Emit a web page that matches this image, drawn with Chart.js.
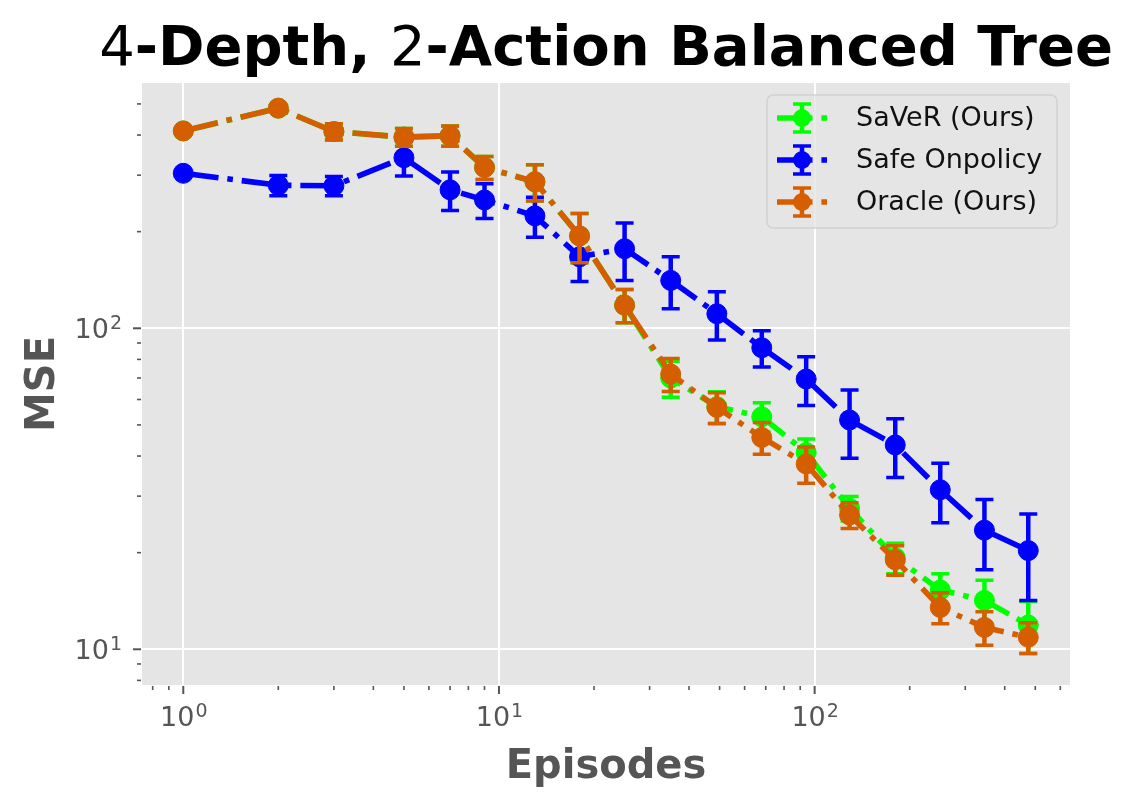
<!DOCTYPE html>
<html>
<head>
<meta charset="utf-8">
<title>4-Depth, 2-Action Balanced Tree</title>
<script src="https://cdn.jsdelivr.net/npm/chart.js@4.4.1/dist/chart.umd.min.js"></script>
<style>
  html, body { margin: 0; padding: 0; background: #ffffff; }
  #chart { display: block; }
</style>
</head>
<body>
<canvas id="chart" width="1130" height="807"></canvas>
<script>
'use strict';

// ********************* DATA *********************

const episodes = [1, 2, 3, 5, 7, 9, 13, 18, 25, 35, 49, 68, 94, 129, 180, 250, 345, 475];

const saverMse = [412, 485, 410, 394, 398, 317, 286, 194, 118, 70, 57, 53, 41, 27.5, 19.3, 15.3, 14.2, 11.9];
const saverErr = [3, 3, 24, 25, 29, 26, 37, 34, 14, 9, 6.4, 5.6, 4.2, 2.4, 2.1, 1.9, 2.2, 2.2];

const onpolicyMse = [304, 279, 278, 340, 270, 251, 224, 167, 177, 141, 111, 87, 69.5, 51.8, 43.3, 31.4, 23.5, 20.3];
const onpolicyErr = [5, 20, 19, 42, 37, 31, 32, 27, 36, 26, 19, 11.3, 12, 12.4, 9, 6.6, 5.8, 6.1];

const oracleMse = [412, 485, 410, 394, 398, 317, 286, 194, 118, 72, 56.7, 45.7, 37.8, 26.2, 19.0, 13.5, 11.7, 10.9];
const oracleErr = [3, 3, 24, 25, 29, 26, 37, 34, 14, 8.5, 6.3, 5.2, 4.9, 2.4, 2.0, 1.5, 1.4, 1.2];

const seriesLabels = ['SaVeR (Ours)', 'Safe Onpolicy', 'Oracle (Ours)'];

const xMajorTicks = [1, 10, 100];
const xMinorTicks = [0.8, 0.9, 2, 3, 4, 5, 6, 7, 8, 9, 20, 30, 40, 50, 60, 70, 80, 90, 200, 300, 400, 500, 600];
const yMajorTicks = [10, 100];
const yMinorTicks = [8, 9, 20, 30, 40, 50, 60, 70, 80, 90, 200, 300, 400, 500];

const xRange = [0.740, 644];
const yRange = [7.74, 581];


// ********************* STYLE *********************

const FONT = '"DejaVu Sans", "Noto Sans", sans-serif';
const TEXT_GREY = '#555555';
const LINE_W = 5.6;
const DASH_DOT = [35.5, 8.9, 5.6, 8.9];
const colors = ['#00FF00', '#0000FF', '#D55E00'];


// ********************* HELPERS *********************

function toPoints(values) {
  return episodes.map((x, i) => ({ x: x, y: values[i] }));
}

function isMajor(v) {
  let l = Math.log10(v);
  return Math.abs(l - Math.round(l)) < 1e-9;
}

function makeDataset(i, values, errors, order) {
  return {
    label: seriesLabels[i],
    data: toPoints(values),
    errors: errors,
    borderColor: colors[i],
    backgroundColor: colors[i],
    borderWidth: LINE_W,
    borderDash: DASH_DOT,
    borderCapStyle: 'butt',
    tension: 0,
    fill: false,
    pointRadius: 10,
    pointBorderWidth: 1,
    pointBackgroundColor: colors[i],
    pointBorderColor: colors[i],
    order: order
  };
}

function drawErrorBars(chart, index) {
  let ds = chart.data.datasets[index];
  let meta = chart.getDatasetMeta(index);
  let yScale = chart.scales.y;
  let ctx = chart.ctx;
  ctx.save();
  ctx.strokeStyle = ds.borderColor;
  ctx.lineCap = 'butt';
  meta.data.forEach((pt, i) => {
    let v = ds.data[i].y;
    let e = ds.errors[i];
    let top = yScale.getPixelForValue(v + e);
    let bot = yScale.getPixelForValue(v - e);
    ctx.lineWidth = 4.5;
    ctx.beginPath();
    ctx.moveTo(pt.x, top);
    ctx.lineTo(pt.x, bot);
    ctx.stroke();
    ctx.lineWidth = 3.5;
    ctx.beginPath();
    ctx.moveTo(pt.x - 9, top);
    ctx.lineTo(pt.x + 9, top);
    ctx.moveTo(pt.x - 9, bot);
    ctx.lineTo(pt.x + 9, bot);
    ctx.stroke();
  });
  ctx.restore();
}

// "10" with a raised exponent, like matplotlib's log labels
function drawPower(ctx, exp, x, baseline, align) {
  ctx.font = '27px ' + FONT;
  let wBase = ctx.measureText('10').width;
  ctx.font = '19px ' + FONT;
  let wExp = ctx.measureText(String(exp)).width;
  let total = wBase + wExp;
  let left = align === 'center' ? x - total / 2 : x - total;
  ctx.textAlign = 'left';
  ctx.textBaseline = 'alphabetic';
  ctx.fillStyle = TEXT_GREY;
  ctx.font = '27px ' + FONT;
  ctx.fillText('10', left, baseline);
  ctx.font = '19px ' + FONT;
  ctx.fillText(String(exp), left + wBase + 1, baseline - 9);
}

function drawAxisTicks(chart) {
  let ctx = chart.ctx;
  let a = chart.chartArea;
  let xs = chart.scales.x;
  let ys = chart.scales.y;
  ctx.save();
  ctx.strokeStyle = TEXT_GREY;

  xs.ticks.forEach(t => {
    let px = xs.getPixelForValue(t.value);
    let major = isMajor(t.value);
    ctx.lineWidth = major ? 2 : 1.6;
    ctx.beginPath();
    ctx.moveTo(px, a.bottom + 1);
    ctx.lineTo(px, a.bottom + (major ? 9 : 5));
    ctx.stroke();
    if (major) {
      drawPower(ctx, Math.round(Math.log10(t.value)), px, 726, 'center');
    }
  });

  ys.ticks.forEach(t => {
    let py = ys.getPixelForValue(t.value);
    let major = isMajor(t.value);
    ctx.lineWidth = major ? 2 : 1.6;
    ctx.beginPath();
    ctx.moveTo(a.left - 1, py);
    ctx.lineTo(a.left - (major ? 9 : 5), py);
    ctx.stroke();
    if (major) {
      drawPower(ctx, Math.round(Math.log10(t.value)), 121, py + 10, 'right');
    }
  });
  ctx.restore();
}

function drawTitles(chart) {
  let ctx = chart.ctx;
  let a = chart.chartArea;
  let cx = (a.left + a.right) / 2;
  ctx.save();

  // main title: the numbers are regular, the words bold
  let parts = [
    ['4', 'normal'],
    ['-Depth, ', 'bold'],
    ['2', 'normal'],
    ['-Action Balanced Tree', 'bold']
  ];
  let widths = parts.map(p => {
    ctx.font = p[1] + ' 56px ' + FONT;
    return ctx.measureText(p[0]).width;
  });
  let total = widths.reduce((s, w) => s + w, 0);
  let x = cx - total / 2;
  ctx.fillStyle = '#000000';
  ctx.textAlign = 'left';
  ctx.textBaseline = 'alphabetic';
  parts.forEach((p, i) => {
    ctx.font = p[1] + ' 56px ' + FONT;
    ctx.fillText(p[0], x, 65);
    x += widths[i];
  });

  ctx.fillStyle = TEXT_GREY;
  ctx.font = 'bold 40px ' + FONT;
  ctx.textAlign = 'center';
  ctx.fillText('Episodes', cx, 778);

  ctx.translate(54, (a.top + a.bottom) / 2);
  ctx.rotate(-Math.PI / 2);
  ctx.fillText('MSE', 0, 0);
  ctx.restore();
}

function roundRect(ctx, x, y, w, h, r) {
  ctx.beginPath();
  ctx.moveTo(x + r, y);
  ctx.lineTo(x + w - r, y);
  ctx.arcTo(x + w, y, x + w, y + r, r);
  ctx.lineTo(x + w, y + h - r);
  ctx.arcTo(x + w, y + h, x + w - r, y + h, r);
  ctx.lineTo(x + r, y + h);
  ctx.arcTo(x, y + h, x, y + h - r, r);
  ctx.lineTo(x, y + r);
  ctx.arcTo(x, y, x + r, y, r);
  ctx.closePath();
}

function drawLegend(chart) {
  let ctx = chart.ctx;
  ctx.save();
  roundRect(ctx, 767, 95, 290, 133, 6);
  ctx.fillStyle = 'rgba(229, 229, 229, 0.8)';
  ctx.fill();
  ctx.strokeStyle = 'rgba(204, 204, 204, 0.8)';
  ctx.lineWidth = 1.5;
  ctx.stroke();

  chart.data.datasets.forEach((ds, i) => {
    let ry = 118 + i * 42;
    let mx = 802;
    ctx.strokeStyle = ds.borderColor;
    ctx.fillStyle = ds.borderColor;

    ctx.lineWidth = LINE_W;
    ctx.setLineDash(DASH_DOT);
    ctx.beginPath();
    ctx.moveTo(777, ry);
    ctx.lineTo(827, ry);
    ctx.stroke();
    ctx.setLineDash([]);

    ctx.lineWidth = 4.5;
    ctx.beginPath();
    ctx.moveTo(mx, ry - 14);
    ctx.lineTo(mx, ry + 14);
    ctx.stroke();
    ctx.lineWidth = 3.5;
    ctx.beginPath();
    ctx.moveTo(mx - 9, ry - 14);
    ctx.lineTo(mx + 9, ry - 14);
    ctx.moveTo(mx - 9, ry + 14);
    ctx.lineTo(mx + 9, ry + 14);
    ctx.stroke();

    ctx.beginPath();
    ctx.arc(mx, ry, 9, 0, Math.PI * 2);
    ctx.fill();

    ctx.fillStyle = '#111111';
    ctx.font = '27px ' + FONT;
    ctx.textAlign = 'left';
    ctx.textBaseline = 'middle';
    ctx.fillText(ds.label, 856, ry + 1);
  });
  ctx.restore();
}


// ********************* PLUGIN *********************

const plotDecor = {
  id: 'plotDecor',
  beforeDraw(chart) {
    let ctx = chart.ctx;
    let a = chart.chartArea;
    ctx.save();
    ctx.fillStyle = '#ffffff';
    ctx.fillRect(0, 0, chart.width, chart.height);
    ctx.fillStyle = '#E5E5E5';
    ctx.fillRect(a.left, a.top, a.right - a.left, a.bottom - a.top);
    ctx.restore();
  },
  beforeDatasetDraw(chart, args) {
    drawErrorBars(chart, args.index);
  },
  afterDraw(chart) {
    drawAxisTicks(chart);
    drawTitles(chart);
    drawLegend(chart);
  }
};


// ********************* CHART *********************

function gridColor(c) {
  return c.tick && isMajor(c.tick.value) ? '#ffffff' : 'rgba(0,0,0,0)';
}

let ctx = document.getElementById('chart');

new Chart(ctx, {
  type: 'line',
  data: {
    datasets: [
      makeDataset(0, saverMse, saverErr, 3),
      makeDataset(1, onpolicyMse, onpolicyErr, 2),
      makeDataset(2, oracleMse, oracleErr, 1)
    ]
  },
  options: {
    responsive: false,
    animation: false,
    devicePixelRatio: 1,
    layout: { padding: { top: 83, right: 60, left: 0, bottom: 0 } },
    plugins: {
      legend: { display: false },
      tooltip: { enabled: false },
      title: { display: false }
    },
    scales: {
      x: {
        type: 'logarithmic',
        bounds: 'data',
        min: xRange[0],
        max: xRange[1],
        afterBuildTicks(scale) {
          scale.ticks = xMajorTicks.concat(xMinorTicks).sort((p, q) => p - q).map(v => ({ value: v }));
        },
        afterFit(scale) { scale.height = 122; },
        ticks: { display: false },
        border: { display: false },
        grid: { color: gridColor, lineWidth: 2, drawTicks: false }
      },
      y: {
        type: 'logarithmic',
        bounds: 'data',
        min: yRange[0],
        max: yRange[1],
        afterBuildTicks(scale) {
          scale.ticks = yMajorTicks.concat(yMinorTicks).sort((p, q) => p - q).map(v => ({ value: v }));
        },
        afterFit(scale) { scale.width = 142; },
        ticks: { display: false },
        border: { display: false },
        grid: { color: gridColor, lineWidth: 2, drawTicks: false }
      }
    }
  },
  plugins: [plotDecor]
});
</script>
</body>
</html>
